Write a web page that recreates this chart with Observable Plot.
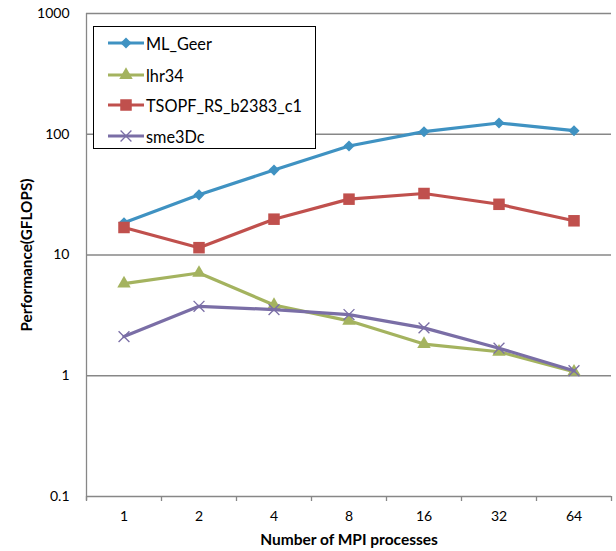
<!DOCTYPE html>
<html>
<head>
<meta charset="utf-8">
<script src="https://cdn.jsdelivr.net/npm/d3@7"></script>
<script src="https://cdn.jsdelivr.net/npm/@observablehq/plot@0.6"></script>
<style>
  body { margin: 0; background: #fff; }
  #wrap { position: relative; width: 616px; height: 551px; font-family: Lato, "Liberation Sans", sans-serif; }
  #legend { position: absolute; left: 93px; top: 26px; width: 221px; height: 121px; border: 1.5px solid #000; background: #fff; }
  .item { position: absolute; left: 0; height: 20px; display: flex; align-items: center; font-size: 16.3px; color: #000; }
  .item svg { margin-left: 14px; margin-right: 2px; }
</style>
</head>
<body>
<div id="wrap"></div>
<script>
const xLabels = ["1", "2", "4", "8", "16", "32", "64"];
const yTicks = [0.1, 1, 10, 100, 1000];
const yTickLabels = ["0.1", "1", "10", "100", "1000"];
const seriesNames = ["ML_Geer", "lhr34", "TSOPF_RS_b2383_c1", "sme3Dc"];
const mlGeer = [18.5, 31.5, 50.5, 80, 105, 124, 107];
const lhr34 = [5.8, 7.1, 3.85, 2.85, 1.83, 1.58, 1.08];
const tsopf = [16.9, 11.5, 19.8, 29, 32.3, 26.3, 19.2];
const sme3Dc = [2.11, 3.76, 3.53, 3.21, 2.49, 1.69, 1.1];
const seriesColors = ["#3f92c2", "#a4b35f", "#c0504d", "#7a6ea6"];
const seriesSymbols = ["diamond2", "triangle", "square", "times"];
const seriesR = [5, 5, 6.5, 5];

const values = [mlGeer, lhr34, tsopf, sme3Dc];
const rows = [];
seriesNames.forEach((s, k) => values[k].forEach((v, i) => rows.push({series: s, i, v})));
const boundaries = d3.range(xLabels.length + 1).map(i => i - 0.5);
const gray = "#878787";

const marks = [
  Plot.gridY(yTicks, {stroke: gray, strokeOpacity: 1, strokeWidth: 1.3}),
  Plot.ruleX([-0.5], {stroke: gray, strokeWidth: 1.3, insetBottom: -4}),
  Plot.axisX(boundaries, {label: null, tickSize: 5, tickFormat: () => "", stroke: gray, strokeWidth: 1.3}),
  Plot.axisX(d3.range(xLabels.length), {label: null, tickSize: 0, tickPadding: 15, tickFormat: i => xLabels[i], fontSize: 14, fill: "#000"}),
  Plot.axisY(yTicks, {label: null, tickSize: 0, tickPadding: 17, tickFormat: d => yTickLabels[yTicks.indexOf(d)], fontSize: 14, fill: "#000"}),
  Plot.text(["Number of MPI processes"], {frameAnchor: "bottom", dy: 48, textAnchor: "middle", fontSize: 15.5, fontWeight: "bold", fill: "#000"}),
  Plot.text(["Performance(GFLOPS)"], {frameAnchor: "left", dx: -59, textAnchor: "middle", lineAnchor: "middle", rotate: -90, fontSize: 15.3, fontWeight: "bold", fill: "#000"})
];
seriesNames.forEach((s, k) => {
  const data = rows.filter(d => d.series === s);
  marks.push(Plot.lineY(data, {x: "i", y: "v", stroke: seriesColors[k], strokeWidth: 3.2}));
  const isStroke = seriesSymbols[k] === "times";
  marks.push(Plot.dot(data, {x: "i", y: "v", symbol: seriesSymbols[k], r: seriesR[k],
    fill: isStroke ? "none" : seriesColors[k], stroke: isStroke ? seriesColors[k] : "none", strokeWidth: 1.3}));
});

const chart = Plot.plot({
  width: 616,
  height: 551,
  marginLeft: 86,
  marginRight: 5,
  marginTop: 13,
  marginBottom: 55,
  style: {fontFamily: "Lato, 'Liberation Sans', sans-serif", background: "#fff"},
  x: {type: "linear", domain: [-0.5, xLabels.length - 0.5], axis: null},
  y: {type: "log", domain: [0.1, 1000], axis: null},
  marks
});
const wrap = document.getElementById("wrap");
wrap.appendChild(chart);

// legend
const legend = document.createElement("div");
legend.id = "legend";
const tops = [6, 38, 68, 99];
seriesNames.forEach((s, k) => {
  const item = document.createElement("div");
  item.className = "item";
  item.style.top = tops[k] + "px";
  const svg = d3.create("svg").attr("width", 36).attr("height", 20);
  svg.append("line").attr("x1", 0).attr("x2", 36).attr("y1", 10).attr("y2", 10)
    .attr("stroke", seriesColors[k]).attr("stroke-width", 3.2);
  const symMap = {diamond2: d3.symbolDiamond2, triangle: d3.symbolTriangle, square: d3.symbolSquare, times: d3.symbolTimes};
  const size = Math.PI * seriesR[k] * seriesR[k];
  const isStroke = seriesSymbols[k] === "times";
  svg.append("path").attr("d", d3.symbol(symMap[seriesSymbols[k]], size)())
    .attr("transform", "translate(18,10)")
    .attr("fill", isStroke ? "none" : seriesColors[k])
    .attr("stroke", isStroke ? seriesColors[k] : "none")
    .attr("stroke-width", 1.3);
  item.appendChild(svg.node());
  const span = document.createElement("span");
  span.textContent = s;
  item.appendChild(span);
  legend.appendChild(item);
});
wrap.appendChild(legend);
</script>
</body>
</html>
